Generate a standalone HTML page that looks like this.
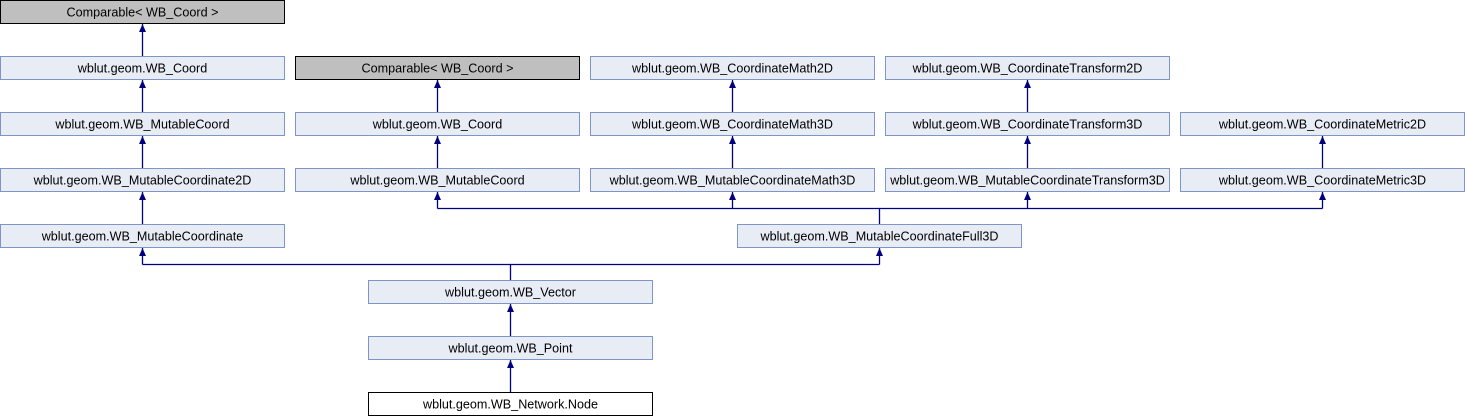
<!DOCTYPE html>
<html><head><style>body{margin:0;background:#fff}svg{display:block}text{font-family:"Liberation Sans",sans-serif;font-size:12.6px;fill:#000}</style></head><body>
<svg width="1465" height="416" xmlns="http://www.w3.org/2000/svg">
<defs><marker id="a" markerWidth="10" markerHeight="10" refX="8" refY="5" orient="auto" markerUnits="userSpaceOnUse"><path d="M0,1.5 L8,5 L0,8.5 Z" fill="#000080"/></marker></defs>
<g stroke="#000080" stroke-width="1.3" fill="none">
<line x1="142.5" y1="56" x2="142.5" y2="24" marker-end="url(#a)"/>
<line x1="142.5" y1="112" x2="142.5" y2="80" marker-end="url(#a)"/>
<line x1="142.5" y1="168" x2="142.5" y2="136" marker-end="url(#a)"/>
<line x1="142.5" y1="224" x2="142.5" y2="192" marker-end="url(#a)"/>
<line x1="437.5" y1="112" x2="437.5" y2="80" marker-end="url(#a)"/>
<line x1="437.5" y1="168" x2="437.5" y2="136" marker-end="url(#a)"/>
<line x1="732.5" y1="112" x2="732.5" y2="80" marker-end="url(#a)"/>
<line x1="732.5" y1="168" x2="732.5" y2="136" marker-end="url(#a)"/>
<line x1="1027.5" y1="112" x2="1027.5" y2="80" marker-end="url(#a)"/>
<line x1="1027.5" y1="168" x2="1027.5" y2="136" marker-end="url(#a)"/>
<line x1="1322.5" y1="168" x2="1322.5" y2="136" marker-end="url(#a)"/>
<path d="M879.5,224 V208.5 H437.5"/><line x1="437.5" y1="208.5" x2="437.5" y2="192" marker-end="url(#a)"/>
<line x1="732.5" y1="208.5" x2="732.5" y2="192" marker-end="url(#a)"/>
<path d="M879.5,208.5 H1322.5"/>
<line x1="1027.5" y1="208.5" x2="1027.5" y2="192" marker-end="url(#a)"/>
<line x1="1322.5" y1="208.5" x2="1322.5" y2="192" marker-end="url(#a)"/>
<path d="M510.5,280 V264.5 H142.5"/><line x1="142.5" y1="264.5" x2="142.5" y2="248" marker-end="url(#a)"/>
<path d="M510.5,264.5 H879.5"/><line x1="879.5" y1="264.5" x2="879.5" y2="248" marker-end="url(#a)"/>
<line x1="510.5" y1="336" x2="510.5" y2="304" marker-end="url(#a)"/>
<line x1="510.5" y1="392" x2="510.5" y2="360" marker-end="url(#a)"/>
</g>
<g stroke-width="1">
<rect x="0.5" y="0.5" width="284" height="23" fill="#bfbfbf" stroke="#000"/>
<rect x="295.5" y="56.5" width="284" height="23" fill="#bfbfbf" stroke="#000"/>
<g fill="#e8ecf5" stroke="#7f95c8">
<rect x="0.5" y="56.5" width="284" height="23"/>
<rect x="590.5" y="56.5" width="284" height="23"/>
<rect x="885.5" y="56.5" width="284" height="23"/>
<rect x="0.5" y="112.5" width="284" height="23"/>
<rect x="295.5" y="112.5" width="284" height="23"/>
<rect x="590.5" y="112.5" width="284" height="23"/>
<rect x="885.5" y="112.5" width="284" height="23"/>
<rect x="1180.5" y="112.5" width="284" height="23"/>
<rect x="0.5" y="168.5" width="284" height="23"/>
<rect x="295.5" y="168.5" width="284" height="23"/>
<rect x="590.5" y="168.5" width="284" height="23"/>
<rect x="885.5" y="168.5" width="284" height="23"/>
<rect x="1180.5" y="168.5" width="284" height="23"/>
<rect x="0.5" y="224.5" width="284" height="23"/>
<rect x="737.5" y="224.5" width="284" height="23"/>
<rect x="368.5" y="280.5" width="284" height="23"/>
<rect x="368.5" y="336.5" width="284" height="23"/>
</g>
<rect x="368.5" y="392.5" width="284" height="23" fill="#fff" stroke="#000"/>
</g>
<g text-anchor="middle">
<text x="142.5" y="16.5">Comparable&lt; WB_Coord &gt;</text>
<text x="142.5" y="72.5">wblut.geom.WB_Coord</text>
<text x="437.5" y="72.5">Comparable&lt; WB_Coord &gt;</text>
<text x="732.5" y="72.5">wblut.geom.WB_CoordinateMath2D</text>
<text x="1027.5" y="72.5">wblut.geom.WB_CoordinateTransform2D</text>
<text x="142.5" y="128.5">wblut.geom.WB_MutableCoord</text>
<text x="437.5" y="128.5">wblut.geom.WB_Coord</text>
<text x="732.5" y="128.5">wblut.geom.WB_CoordinateMath3D</text>
<text x="1027.5" y="128.5">wblut.geom.WB_CoordinateTransform3D</text>
<text x="1322.5" y="128.5">wblut.geom.WB_CoordinateMetric2D</text>
<text x="142.5" y="184.5">wblut.geom.WB_MutableCoordinate2D</text>
<text x="437.5" y="184.5">wblut.geom.WB_MutableCoord</text>
<text x="732.5" y="184.5">wblut.geom.WB_MutableCoordinateMath3D</text>
<text x="1027.5" y="184.5">wblut.geom.WB_MutableCoordinateTransform3D</text>
<text x="1322.5" y="184.5">wblut.geom.WB_CoordinateMetric3D</text>
<text x="142.5" y="240.5">wblut.geom.WB_MutableCoordinate</text>
<text x="879.5" y="240.5">wblut.geom.WB_MutableCoordinateFull3D</text>
<text x="510.5" y="296.5">wblut.geom.WB_Vector</text>
<text x="510.5" y="352.5">wblut.geom.WB_Point</text>
<text x="510.5" y="408.5">wblut.geom.WB_Network.Node</text>
</g>
</svg>
</body></html>
